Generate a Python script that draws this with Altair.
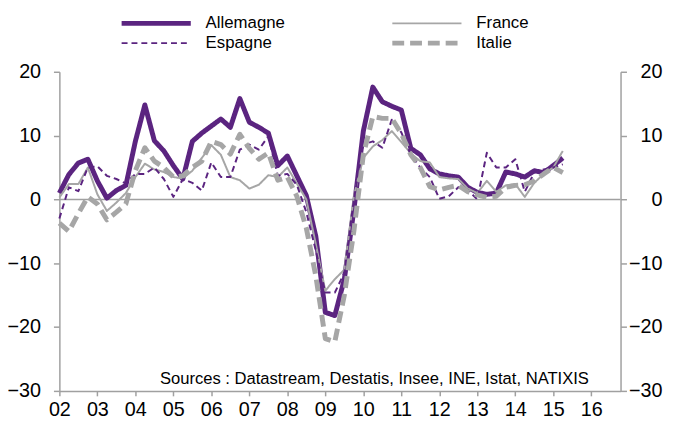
import altair as alt
import pandas as pd

# Quarterly data, 2002Q1 .. 2015Q2 (year-on-year %)
years = list(range(2002, 2016))
quarters = [(y, q) for y in years for q in (1, 2, 3, 4)][:54]

allemagne = [1.0, 3.9, 5.7, 6.3, 2.9, 0.2, 1.4, 2.2, 9.1, 14.8, 9.2, 7.6,
             5.3, 3.2, 9.1, 10.4, 11.5, 12.6, 11.3, 15.8, 12.1, 11.3, 10.4, 5.3,
             6.8, 3.7, 0.6, -5.8, -17.7, -18.2, -12.5, -1.7, 10.7, 17.6, 15.3, 14.6,
             14.0, 8.0, 7.0, 4.8, 4.0, 3.7, 3.5, 1.9, 1.1, 0.8, 1.0, 4.3,
             4.0, 3.5, 4.5, 4.2, 5.3, 6.5]
france = [0.3, 2.4, 2.4, 5.0, 0.8, -1.8, -0.5, 1.0, 3.5, 5.6, 4.7, 4.3,
          3.5, 3.3, 4.5, 6.5, 8.5, 7.0, 3.5, 3.0, 1.7, 2.3, 3.8, 3.5,
          5.0, 2.5, 0.0, -7.0, -14.3, -12.5, -11.0, 0.5, 6.5, 8.3, 9.3, 10.7,
          9.0, 7.2, 6.0, 5.8, 3.5, 3.3, 3.2, 1.7, 1.0, 2.9, 1.2, 2.2,
          2.4, 0.4, 2.6, 4.0, 5.0, 7.6]
espagne = [-3.0, 1.9, 1.3, 5.0, 5.2, 3.7, 3.2, 2.5, 4.0, 4.0, 5.0, 3.2,
           0.4, 3.2, 2.6, 1.4, 5.8, 3.5, 3.5, 7.8, 8.6, 7.8, 9.9, 3.7,
           4.0, 2.3, -2.0, -8.0, -14.6, -14.6, -11.5, 0.0, 8.6, 9.1, 8.1, 12.5,
           10.5, 7.0, 5.0, 3.5, 0.1, 0.5, 1.9, 1.5, 0.0, 7.3, 5.0, 5.0,
           6.3, 1.2, 4.2, 4.7, 5.0, 5.5]
italie = [-3.7, -5.0, -2.2, 0.4, -0.7, -3.2, -2.0, -0.7, 4.5, 8.1, 6.0, 5.0,
          3.5, 3.7, 5.0, 6.0, 9.1, 8.6, 7.1, 10.2, 8.0, 6.3, 7.3, 3.0,
          3.5, 0.5, -4.5, -12.0, -21.8, -22.3, -15.0, -5.0, 7.0, 13.0, 12.7, 12.7,
          10.3, 7.0, 5.0, 2.0, 1.5, 1.9, 2.2, 1.2, 0.7, 0.3, 0.5, 1.9,
          2.2, 2.3, 2.9, 4.0, 5.0, 4.2]

names = ["Allemagne", "France", "Espagne", "Italie"]
legend_order = ["Allemagne", "Espagne", "France", "Italie"]  # filled column by column
series = [allemagne, france, espagne, italie]
colors = ["#5B2480", "#A6A6A6", "#5B2480", "#A6A6A6"]
dashes = [[1, 0], [1, 0], [6, 4], [12, 6]]
widths = [5, 2, 2, 5]

x_ticks = list(range(2002, 2017))
y_ticks = [-30, -20, -10, 0, 10, 20]
source_text = "Sources : Datastream, Destatis, Insee, INE, Istat, NATIXIS"

rows = []
for name, vals in zip(names, series):
    for (y, q), v in zip(quarters, vals):
        rows.append({"pays": name, "t": y + (q - 1) / 4, "v": v})
df = pd.DataFrame(rows)

FONT = "Liberation Sans"
GRAY = "#A0A0A0"

x_enc = alt.X(
    "t:Q",
    scale=alt.Scale(domain=[2002, 2016.77], nice=False, zero=False),
    axis=alt.Axis(values=x_ticks, labelExpr="slice(toString(datum.value), 2)",
                  title=None, grid=False, domainColor=GRAY, domainWidth=1.5,
                  tickColor=GRAY, tickWidth=1.5, tickSize=5, labelPadding=4,
                  labelFont=FONT, labelFontSize=20, labelColor="black",
                  labelFlush=False),
)
y_scale = alt.Scale(domain=[-30, 20], nice=False, zero=False)


def yaxis(orient):
    pad = 13 if orient == "left" else 36
    return alt.Axis(orient=orient, values=y_ticks, title=None, grid=False,
                    domainColor=GRAY, domainWidth=1.5, tickColor=GRAY,
                    tickWidth=1.5, tickSize=6, labelPadding=pad,
                    labelAlign="right", labelFont=FONT,
                    labelFontSize=20, labelColor="black", labelFlush=False)


width_expr = "(indexof(['Allemagne','Italie'], datum.value) >= 0 ? 5 : 2)"
legend = alt.Legend(title=None, orient="none", legendX=62, legendY=-57,
                    values=legend_order,
                    columns=2, columnPadding=107, rowPadding=3,
                    symbolType="stroke", symbolSize=4900, clipHeight=16,
                    symbolStrokeWidth=alt.ExprRef(width_expr),
                    labelFont=FONT, labelFontSize=17, labelOffset=14,
                    labelColor="black")

color_enc = alt.Color("pays:N", scale=alt.Scale(domain=names, range=colors), legend=legend)
dash_enc = alt.StrokeDash("pays:N", scale=alt.Scale(domain=names, range=dashes), legend=legend)


def line_layer(name, w, axis):
    return alt.Chart(df).transform_filter(alt.datum.pays == name).mark_line(
        strokeJoin="round", strokeWidth=w).encode(
        x=x_enc,
        y=alt.Y("v:Q", scale=y_scale, axis=axis),
        color=color_enc,
        strokeDash=dash_enc,
    )


zero = alt.Chart(pd.DataFrame({"z": [0]})).mark_rule(
    color=GRAY, strokeWidth=1.5).encode(y=alt.Y("z:Q", scale=y_scale, axis=None))

axes = [yaxis("left"), None, None, yaxis("right")]
layers = [zero] + [line_layer(n, w, a) for n, w, a in zip(names, widths, axes)]

src = alt.Chart(pd.DataFrame({"s": [source_text]})).mark_text(
    align="right", baseline="middle", font=FONT, fontSize=16.8, color="black"
).encode(text="s:N", x=alt.value(536), y=alt.value(311))

chart = alt.layer(*layers, src).resolve_axis(y="independent").properties(
    width=568, height=323,
    padding={"left": 52, "top": 62, "right": 45, "bottom": 35},
    autosize=alt.AutoSizeParams(type="none"),
).configure_view(stroke=None)

chart.save("out.html", embed_options={"renderer": "svg", "actions": False})
